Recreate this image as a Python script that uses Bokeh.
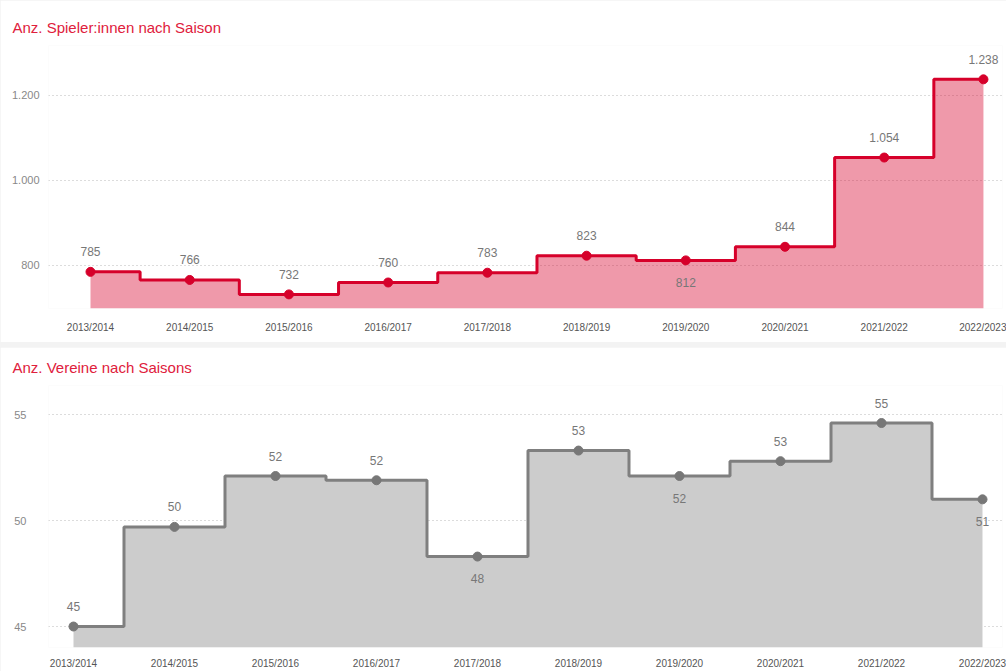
from bokeh.plotting import figure
from bokeh.models import ColumnDataSource, LabelSet, FixedTicker, Range1d
from bokeh.core.properties import value
from bokeh.layouts import column
from bokeh.embed import file_html
from bokeh.resources import INLINE

# ---- data ----
seasons = ["2013/2014", "2014/2015", "2015/2016", "2016/2017", "2017/2018",
           "2018/2019", "2019/2020", "2020/2021", "2021/2022", "2022/2023"]
spieler = [785, 766, 732, 760, 783, 823, 812, 844, 1054, 1238]
vereine = [45.0, 49.7, 52.1, 51.9, 48.3, 53.3, 52.1, 52.8, 54.6, 51.0]
spieler_ticks = [800, 1000, 1200]
spieler_tick_labels = ["800", "1.000", "1.200"]
vereine_ticks = [45, 50, 55]
vereine_tick_labels = ["45", "50", "55"]
spieler_label_below = [False, False, False, False, False, False, True, False, False, False]
vereine_label_below = [False, False, False, False, True, False, True, False, False, True]

FONT = "Liberation Sans"


def fmt_de(v):
    return f"{int(round(v)):,}".replace(",", ".")


def panel(title, values, below, ticks, tick_labels, xr, yr, fw, fh, borders,
          line_color, fill_color, fill_alpha, dot_color, xstandoff, ystandoff):
    idx = list(range(len(seasons)))
    p = figure(frame_width=fw, frame_height=fh, output_backend="svg", toolbar_location=None,
               x_range=Range1d(*xr), y_range=Range1d(*yr),
               min_border_left=borders[0], min_border_right=borders[1],
               min_border_top=borders[2], min_border_bottom=borders[3])
    p.outline_line_color = None
    p.background_fill_color = "white"
    p.border_fill_color = "white"

    p.title.text = title
    p.title.text_font = FONT
    p.title.text_font_size = "15px"
    p.title.text_font_style = "normal"
    p.title.text_color = "#e0203c"
    p.title.align = "left"
    p.title.offset = -36
    p.title.standoff = 19

    p.varea_step(x=idx, y1=[yr[0]] * len(idx), y2=values, step_mode="center",
                 fill_color=fill_color, fill_alpha=fill_alpha)
    p.step(idx, values, mode="center", line_color=line_color, line_width=3)
    p.scatter(idx, values, size=9, color=dot_color)

    src = ColumnDataSource(dict(
        x=idx, y=values, text=[fmt_de(v) for v in values],
        yoff=[-22 if b else 20 for b in below]))
    p.add_layout(LabelSet(x="x", y="y", text="text", source=src, y_offset="yoff",
                          text_align="center", text_baseline="middle",
                          text_font=value(FONT), text_font_size="12px",
                          text_color="#777777"))

    p.xaxis.ticker = FixedTicker(ticks=idx)
    p.xaxis.major_label_overrides = {i: s for i, s in enumerate(seasons)}
    p.yaxis.ticker = FixedTicker(ticks=ticks)
    p.yaxis.major_label_overrides = {t: l for t, l in zip(ticks, tick_labels)}
    for ax in (p.xaxis, p.yaxis):
        ax.axis_line_color = None
        ax.major_tick_line_color = None
        ax.minor_tick_line_color = None
        ax.major_label_text_font = FONT
    p.xaxis.major_label_text_font_size = "10px"
    p.xaxis.major_label_text_color = "#555555"
    p.xaxis.major_label_standoff = xstandoff
    p.yaxis.major_label_text_font_size = "11px"
    p.yaxis.major_label_text_color = "#888888"
    p.yaxis.major_label_standoff = ystandoff

    p.xgrid.grid_line_color = None
    p.ygrid.grid_line_color = "#b8b8b8"
    p.ygrid.grid_line_dash = "1 3"
    p.ygrid.grid_line_width = 1
    return p


p1 = panel("Anz. Spieler:innen nach Saison", spieler, spieler_label_below,
           spieler_ticks, spieler_tick_labels,
           (-0.4233, 9.192), (698.8, 1317.6), 954, 263, (48, 4, 45, 34),
           "#d6002a", "#d6002a", 0.4, "#d6002a", 7, 3)
p2 = panel("Anz. Vereine nach Saisons", vereine, vereine_label_below,
           vereine_ticks, vereine_tick_labels,
           (-0.2475, 9.198), (44.01, 56.37), 954, 262, (48, 4, 35, 17),
           "#7f7f7f", "#cccccc", 1.0, "#777777", 4, 16)

layout = column(p1, p2, spacing=5, styles={"background-color": "#f3f3f3"})
open("out.html", "w").write(file_html(layout, INLINE))
